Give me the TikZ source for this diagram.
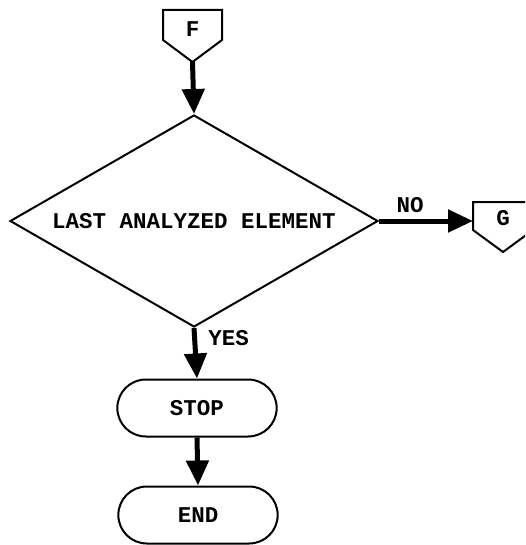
\documentclass[tikz,border=0pt]{standalone}
\usepackage{fontspec}
\setmonofont{Liberation Mono}
\usetikzlibrary{arrows.meta}
\usetikzlibrary{shapes.geometric}
\usetikzlibrary{shapes.misc}

\begin{document}
\begin{tikzpicture}[x=1pt,y=-1pt,
  every node/.style={font=\ttfamily\bfseries\fontsize{22.5}{26}\selectfont},
  fleche/.style={-{Triangle[width=22pt,length=25pt]}, line width=5pt},
  renvoi/.style={line width=2pt, line join=miter},
  terminal/.style={draw, line width=2pt, rounded rectangle, minimum width=166pt, minimum height=57pt}]
\useasboundingbox (0,0) rectangle (525,545);
\clip (0,0) rectangle (525,545);

% connecteurs de renvoi
\coordinate (Fpt) at (192.5,62);
\draw [renvoi] (Fpt) -- ++(-29.5,-22) -- ++(0,-30) -- ++(59,0) -- ++(0,30) -- cycle;
\node (F) at (192.5,29) {F};
\coordinate (Gw) at (473,217);
\draw [renvoi] (503,252) -- ++(-30,-22) -- ++(0,-28) -- ++(60,0) -- ++(0,28) -- cycle;
\node (G) at (503,218) {G};

\node [draw, line width=2pt, diamond, aspect=1.74, minimum width=368pt, minimum height=212pt, inner sep=0pt] (test) at (194,221) {LAST ANALYZED ELEMENT};
\node [terminal] (stop) at (197,408) {STOP};
\node [terminal] (fin) at (198,515) {END};

\draw [fleche] (Fpt) -- (test.north);
\draw [fleche] (test.east) -- (test.east -| Gw) node [pos=0.33, above=2pt] {NO};
\draw [fleche] (test.south) -- (stop.north) node [pos=0.2, anchor=west, xshift=8pt] {YES};
\draw [fleche] (stop.south) -- (fin.north);

\end{tikzpicture}
\end{document}
